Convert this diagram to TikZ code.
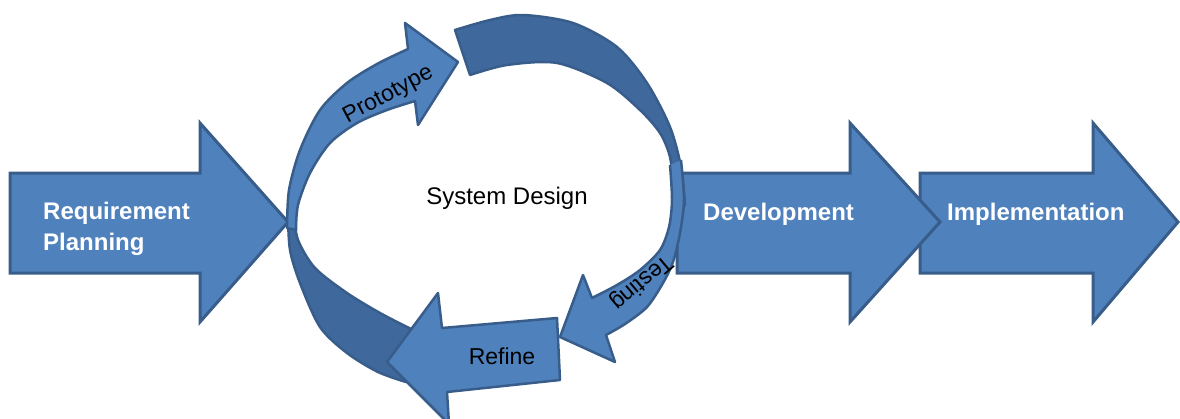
\documentclass[tikz,border=0pt]{standalone}
\usepackage{fontspec}
\setmainfont{Liberation Sans}
\definecolor{fillA}{RGB}{79,129,189}
\definecolor{fillD}{RGB}{63,104,156}
\definecolor{edgeC}{RGB}{56,93,138}
\tikzset{
  bigarrow/.style={fill=fillA, draw=edgeC, line width=3pt, line join=miter},
  ringlight/.style={fill=fillA, draw=edgeC, line width=2.5pt, line join=round},
  ringdark/.style={fill=fillD, draw=edgeC, line width=2.5pt, line join=round},
  ringedge/.style={draw=edgeC, line width=2.5pt, line join=round},
  biglabel/.style={text=white, font=\fontsize{24}{28}\selectfont\bfseries, inner sep=0pt, anchor=base west},
  cyclelabel/.style={text=black, font=\fontsize{23}{27}\selectfont, inner sep=0pt}
}
\begin{document}
\begin{tikzpicture}[x=1pt,y=-1pt]
\useasboundingbox (0,0) rectangle (1180,418);
\clip (0,0) rectangle (1180,418);
% straight arrows
\filldraw[bigarrow] (920,173) -- (1093,173) -- (1093,123) -- (1178,222) -- (1093,322) -- (1093,273) -- (920,273) -- cycle;
\filldraw[bigarrow] (677,173) -- (850,173) -- (850,123) -- (940,222) -- (850,322) -- (850,273) -- (677,273) -- cycle;
\filldraw[bigarrow] (10,173) -- (200,173) -- (200,123) -- (288,222) -- (200,322) -- (200,273) -- (10,273) -- cycle;
% cycle: bottom dark band
\filldraw[ringdark] plot[smooth] coordinates {(288,215) (290,250) (300,283) (320,327) (347,353) (378,372) (406,382)}
  -- plot[smooth] coordinates {(411,329) (380,313) (347,293) (315,268) (298,240) (294,215)} -- cycle;
% prototype arrow
\filldraw[ringlight] plot[smooth] coordinates {(287,228) (289,190) (300,150) (320,110) (347,83) (377,64) (408,49)}
  -- (405,23) -- (458,62) -- (418,125) -- (415,101)
  -- plot[smooth] coordinates {(415,101) (387,110) (357,123) (330,143) (310,173) (298,205) (296,230)} -- cycle;
% top dark band
\filldraw[ringdark] plot[smooth] coordinates {(455,30) (490,20) (523,15) (573,23) (617,47) (647,83) (670,127) (681,167) (685,205)}
  -- plot[smooth] coordinates {(673,215) (673,187) (670,157) (660,133) (640,110) (607,83) (557,63) (507,65) (470,75)} -- cycle;
% testing arrow
\fill[fillA] plot[smooth] coordinates {(681,160) (684,200) (680,233) (673,262) (663,283) (647,307) (625,324) (606,335)}
  -- (615,362) -- (560,337) -- (583,275) -- (592,298)
  -- plot[smooth] coordinates {(592,298) (617,285) (640,270) (660,250) (669,227) (672,200) (670,165)} -- cycle;
\draw[ringedge] plot[smooth] coordinates {(681,160) (684,200) (680,233) (673,262) (663,283) (647,307) (625,324) (606,335)}
  -- (615,362) -- (560,337) -- (583,275) -- (592,298)
  -- plot[smooth] coordinates {(592,298) (617,285) (640,270) (660,250) (669,227) (672,200) (670,165)};
% refine arrow
\filldraw[ringlight] (557,318) -- (442,328) -- (438,293) -- (387,362) -- (449,424) -- (447,392) -- (560,380) -- cycle;
% labels
\node[biglabel] (req1) at (43,219) {Requirement};
\node[biglabel] (req2) at (43,250) {Planning};
\node[biglabel] (dev) at (703,220) {Development};
\node[biglabel] (impl) at (947,220) {Implementation};
\node[cyclelabel, font=\fontsize{24}{28}\selectfont] (sys) at (507,198) {System Design};
\node[cyclelabel, anchor=base, rotate=28] (proto) at (391,100) {Prototype};
\node[cyclelabel, rotate=220] (test) at (641,282) {Testing};
\node[cyclelabel] (refine) at (502,356) {Refine};
\end{tikzpicture}
\end{document}
